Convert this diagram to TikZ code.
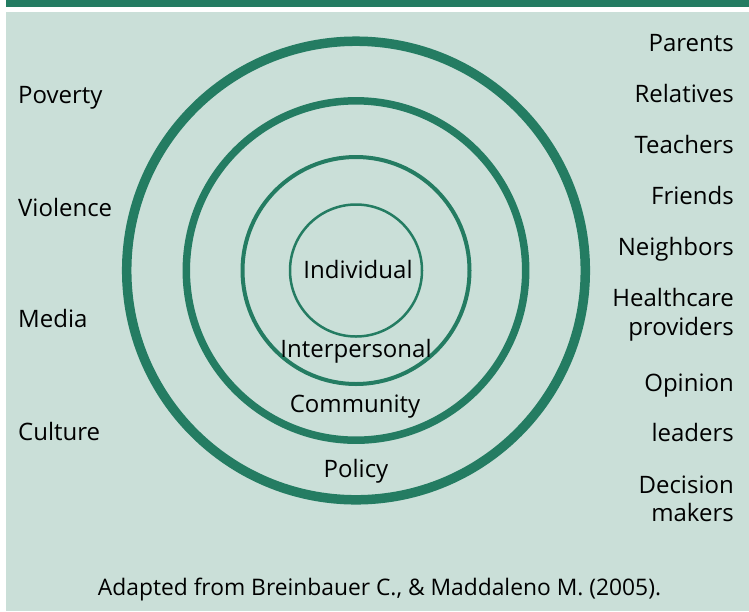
\documentclass[tikz,border=0pt]{standalone}
\usepackage{fontspec}
\setmainfont{Open Sans}
\definecolor{ringgreen}{RGB}{36,124,98}
\definecolor{panelbg}{RGB}{202,223,216}
\begin{document}
\begin{tikzpicture}[x=1pt,y=-1pt,
  lbl/.style={inner sep=0pt,font=\fontsize{24}{28}\selectfont,text=black},
  leftlbl/.style={lbl,anchor=base west},
  rightlbl/.style={lbl,anchor=base east},
  midlbl/.style={lbl,anchor=base},
  ring/.style={draw=ringgreen,circle,inner sep=0pt,minimum size=#1}]
\useasboundingbox (0,0) rectangle (749,611);
% page background and header bar
\fill[white] (0,0) rectangle (749,611);
\fill[panelbg] (6,12) rectangle (749,611);
\fill[ringgreen] (6,0) rectangle (749,7);
% nested circles
\coordinate (c) at (356,270.5);
\node[ring=458.6pt,line width=9.5pt] (outer) at (c) {};
\node[ring=339.4pt,line width=7.5pt] (comm) at (c) {};
\node[ring=227pt,line width=4pt] (inter) at (c) {};
\node[ring=132pt,line width=2.5pt] (indiv) at (c) {};
% level labels
\node[midlbl] (tind) at (358,278) {Individual};
\node[midlbl] (tint) at (356,357.7) {Interpersonal};
\node[midlbl] (tcom) at (355,412.7) {Community};
\node[midlbl] (tpol) at (356,477) {Policy};
% left column
\node[leftlbl] (pov) at (18,103.3) {Poverty};
\node[leftlbl] (vio) at (18,216) {Violence};
\node[leftlbl] (med) at (18,327.7) {Media};
\node[leftlbl] (cul) at (18,440) {Culture};
% right column
\node[rightlbl] (par) at (734,51.7) {Parents};
\node[rightlbl] (rel) at (734,102) {Relatives};
\node[rightlbl] (tea) at (734,153) {Teachers};
\node[rightlbl] (fri) at (734,204) {Friends};
\node[rightlbl] (nei) at (734,255) {Neighbors};
\node[rightlbl] (hea) at (734,306.7) {Healthcare};
\node[rightlbl] (pro) at (734,335) {providers};
\node[rightlbl] (opi) at (734,391) {Opinion};
\node[rightlbl] (lea) at (734,441.7) {leaders};
\node[rightlbl] (dec) at (734,493.3) {Decision};
\node[rightlbl] (mak) at (734,521.7) {makers};
% source line
\node[lbl,anchor=base,font=\fontsize{22.8}{27}\selectfont] (src) at (379.5,595) {Adapted from Breinbauer C., \& Maddaleno M. (2005).};
\end{tikzpicture}
\end{document}
